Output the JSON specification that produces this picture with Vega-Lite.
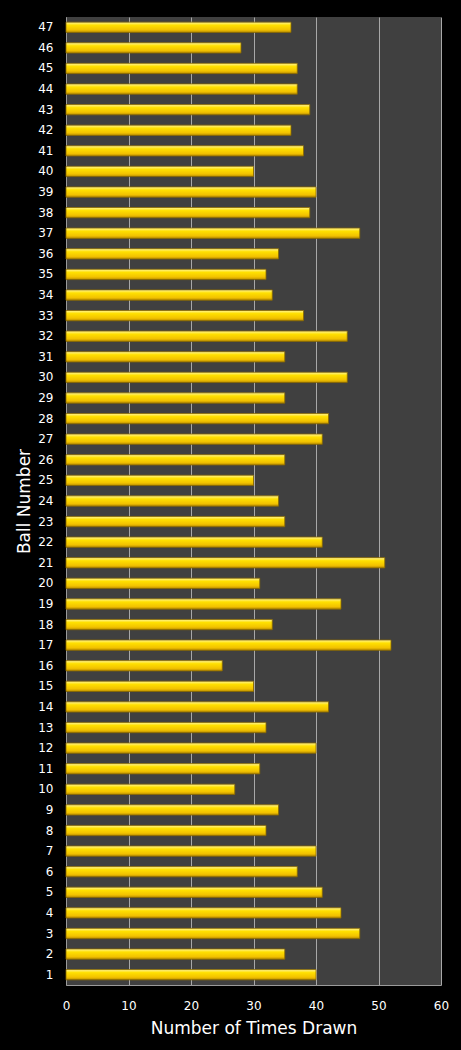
{
  "$schema": "https://vega.github.io/schema/vega-lite/v6.json",
  "description": "Number of times each ball was drawn",
  "width": 375,
  "height": 968,
  "autosize": "none",
  "padding": {"left": 66, "top": 17, "right": 20, "bottom": 65},
  "background": "#000000",
  "config": {
    "view": {"fill": "#404040", "stroke": null},
    "font": "DejaVu Sans",
    "axis": {
      "labelColor": "#ffffff",
      "titleColor": "#ffffff",
      "labelFont": "DejaVu Sans",
      "titleFont": "DejaVu Sans",
      "labelFontSize": 12,
      "titleFontSize": 17,
      "titleFontWeight": "normal",
      "domainColor": "#9a9a9a",
      "ticks": false
    }
  },
  "data": {
    "values": [
      {"ball": 1, "drawn": 40},
      {"ball": 2, "drawn": 35},
      {"ball": 3, "drawn": 47},
      {"ball": 4, "drawn": 44},
      {"ball": 5, "drawn": 41},
      {"ball": 6, "drawn": 37},
      {"ball": 7, "drawn": 40},
      {"ball": 8, "drawn": 32},
      {"ball": 9, "drawn": 34},
      {"ball": 10, "drawn": 27},
      {"ball": 11, "drawn": 31},
      {"ball": 12, "drawn": 40},
      {"ball": 13, "drawn": 32},
      {"ball": 14, "drawn": 42},
      {"ball": 15, "drawn": 30},
      {"ball": 16, "drawn": 25},
      {"ball": 17, "drawn": 52},
      {"ball": 18, "drawn": 33},
      {"ball": 19, "drawn": 44},
      {"ball": 20, "drawn": 31},
      {"ball": 21, "drawn": 51},
      {"ball": 22, "drawn": 41},
      {"ball": 23, "drawn": 35},
      {"ball": 24, "drawn": 34},
      {"ball": 25, "drawn": 30},
      {"ball": 26, "drawn": 35},
      {"ball": 27, "drawn": 41},
      {"ball": 28, "drawn": 42},
      {"ball": 29, "drawn": 35},
      {"ball": 30, "drawn": 45},
      {"ball": 31, "drawn": 35},
      {"ball": 32, "drawn": 45},
      {"ball": 33, "drawn": 38},
      {"ball": 34, "drawn": 33},
      {"ball": 35, "drawn": 32},
      {"ball": 36, "drawn": 34},
      {"ball": 37, "drawn": 47},
      {"ball": 38, "drawn": 39},
      {"ball": 39, "drawn": 40},
      {"ball": 40, "drawn": 30},
      {"ball": 41, "drawn": 38},
      {"ball": 42, "drawn": 36},
      {"ball": 43, "drawn": 39},
      {"ball": 44, "drawn": 37},
      {"ball": 45, "drawn": 37},
      {"ball": 46, "drawn": 28},
      {"ball": 47, "drawn": 36}
    ]
  },
  "mark": {
    "type": "bar",
    "color": {
      "gradient": "linear",
      "x1": 0, "y1": 0, "x2": 0, "y2": 1,
      "stops": [
        {"offset": 0, "color": "#fff59a"},
        {"offset": 0.3, "color": "#ffe000"},
        {"offset": 0.75, "color": "#f2c200"},
        {"offset": 1, "color": "#b88c00"}
      ]
    },
    "stroke": "#8a6a00",
    "strokeWidth": 0.8
  },
  "encoding": {
    "y": {
      "field": "ball",
      "type": "ordinal",
      "sort": "descending",
      "title": "Ball Number",
      "scale": {"paddingInner": 0.5, "paddingOuter": 0.25},
      "axis": {"labelPadding": 13, "titlePadding": 4, "labelAngle": 0}
    },
    "x": {
      "field": "drawn",
      "type": "quantitative",
      "title": "Number of Times Drawn",
      "scale": {"domain": [0, 60]},
      "axis": {
        "values": [0, 10, 20, 30, 40, 50, 60],
        "grid": true,
        "gridColor": "#a8a8a8",
        "gridWidth": 1,
        "labelPadding": 15,
        "titlePadding": 9,
        "labelFlush": false
      }
    }
  }
}
